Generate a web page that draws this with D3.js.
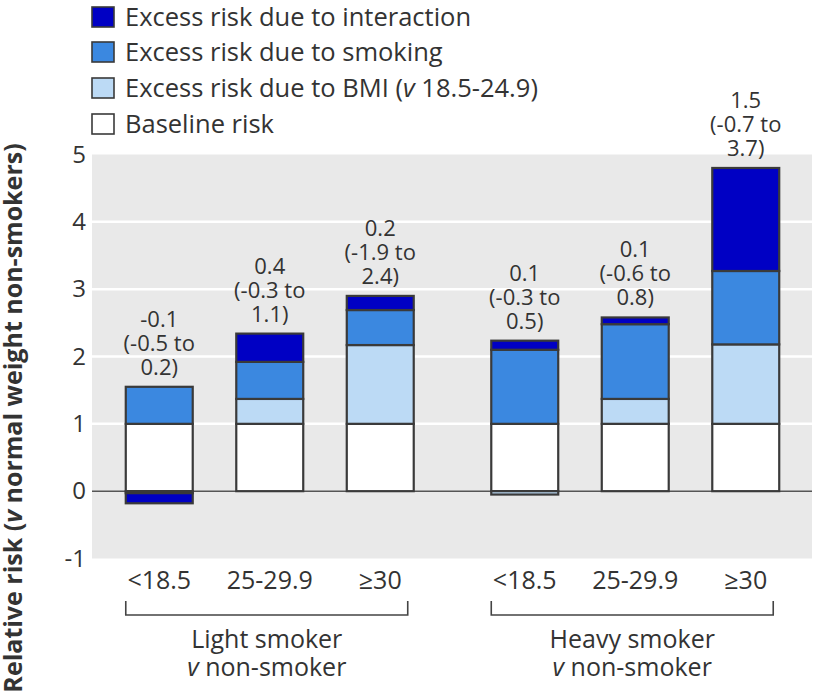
<!DOCTYPE html>
<html>
<head>
<meta charset="utf-8">
<script src="https://cdn.jsdelivr.net/npm/d3@7"></script>
<style>
  html, body { margin: 0; padding: 0; background: #fff; }
  svg { display: block; }
  text { font-family: "Open Sans", "Noto Sans", sans-serif; fill: #333; }
</style>
</head>
<body>
<svg id="chart" width="816" height="692"></svg>
<script>
// ---- data ----
const groups = ["Light smoker", "Heavy smoker"];
const groupSubLabels = ["non-smoker", "non-smoker"];
const bmiCategories = ["<18.5", "25-29.9", "≥30"];
const barGroup = ["Light smoker", "Light smoker", "Light smoker", "Heavy smoker", "Heavy smoker", "Heavy smoker"];
const barBmi = ["<18.5", "25-29.9", "≥30", "<18.5", "25-29.9", "≥30"];
const baselineRisk = [1, 1, 1, 1, 1, 1];
const bmiExcess = [-0.03, 0.37, 1.17, -0.05, 0.37, 1.18];
const smokingExcess = [0.55, 0.55, 0.52, 1.10, 1.11, 1.09];
const interactionExcess = [-0.15, 0.42, 0.21, 0.135, 0.10, 1.53];
const reriEstimate = ["-0.1", "0.4", "0.2", "0.1", "0.1", "1.5"];
const reriLower = ["-0.5", "-0.3", "-1.9", "-0.3", "-0.6", "-0.7"];
const reriUpper = ["0.2", "1.1", "2.4", "0.5", "0.8", "3.7"];
const yTicks = [-1, 0, 1, 2, 3, 4, 5];
const seriesKeys = ["baseline", "bmi", "smoking", "interaction"];
const seriesLabels = ["Baseline risk", "Excess risk due to BMI", "Excess risk due to smoking", "Excess risk due to interaction"];
const seriesColors = ["#ffffff", "#bcdaf5", "#3b88e0", "#0000c4"];

// ---- build table ----
const rows = barGroup.map((g, i) => ({
  group: g, cat: barBmi[i],
  baseline: baselineRisk[i], bmi: bmiExcess[i],
  smoking: smokingExcess[i], interaction: interactionExcess[i]
}));

const svg = d3.select("#chart");
const panel = { left: 92, right: 812, top: 154.5, bottom: 558.5 };

const y = d3.scaleLinear().domain([-1, 5]).range([panel.bottom, panel.top]);
const x0 = d3.scaleBand().domain(groups).range([104, 801]).paddingInner(0.093).paddingOuter(0);
const x1 = d3.scaleBand().domain(bmiCategories).range([0, x0.bandwidth()]).paddingInner(0.394).paddingOuter(0.197);
const xc = r => x0(r.group) + x1(r.cat);

// panel background
svg.append("rect")
  .attr("x", panel.left).attr("y", panel.top)
  .attr("width", panel.right - panel.left).attr("height", panel.bottom - panel.top)
  .attr("fill", "#e9e9e9");

// gridlines
svg.append("g").selectAll("line")
  .data(yTicks.filter(t => t > 0 && t < 5))
  .join("line")
  .attr("x1", panel.left).attr("x2", panel.right)
  .attr("y1", d => y(d)).attr("y2", d => y(d))
  .attr("stroke", "#ffffff").attr("stroke-width", 2.5);

// y axis labels
const yAxis = d3.axisLeft(y).tickValues(yTicks).tickSize(0).tickPadding(0).tickFormat(d => String(d));
const yg = svg.append("g").attr("transform", `translate(86,0)`).call(yAxis);
yg.select(".domain").remove();
yg.selectAll("text").attr("font-size", 24).attr("fill", "#333")
  .style("font-family", '"Open Sans", sans-serif');

// zero line
svg.append("line")
  .attr("x1", panel.left).attr("x2", panel.right)
  .attr("y1", y(0)).attr("y2", y(0))
  .attr("stroke", "#555").attr("stroke-width", 1.5);

// stacked bars
const stack = d3.stack().keys(seriesKeys).offset(d3.stackOffsetDiverging);
const stacked = stack(rows);
const barsG = svg.append("g");
stacked.forEach((layer, li) => {
  barsG.append("g").selectAll("rect")
    .data(layer.filter(d => d[1] !== d[0]))
    .join("rect")
    .attr("x", d => xc(d.data))
    .attr("width", x1.bandwidth())
    .attr("y", d => y(Math.max(d[0], d[1])))
    .attr("height", d => Math.abs(y(d[0]) - y(d[1])))
    .attr("fill", seriesColors[li])
    .attr("stroke", "#3a3a3a").attr("stroke-width", 2.2);
});

// annotations
const tops = rows.map((r, i) => d3.max(stacked, l => Math.max(l[i][0], l[i][1])));
const annG = svg.append("g");
rows.forEach((r, i) => {
  const cx = xc(r) + x1.bandwidth() / 2;
  const base = y(tops[i]) - 12;
  const lines = [reriEstimate[i], `(${reriLower[i]} to`, `${reriUpper[i]})`];
  lines.forEach((ln, k) => {
    annG.append("text").attr("text-anchor", "middle").attr("font-size", 22)
      .attr("x", cx).attr("y", base - (lines.length - 1 - k) * 24).text(ln);
  });
});

// x category labels
const xAxisG = svg.append("g");
rows.forEach(r => {
  xAxisG.append("text")
    .attr("x", xc(r) + x1.bandwidth() / 2).attr("y", 589)
    .attr("text-anchor", "middle").attr("font-size", 25)
    .text(r.cat);
});

// brackets and group labels
groups.forEach((g, gi) => {
  const xl = x0(g) + x1(bmiCategories[0]);
  const xr = x0(g) + x1(bmiCategories[bmiCategories.length - 1]) + x1.bandwidth() - 6;
  svg.append("path")
    .attr("d", `M${xl},601V615H${xr}V601`)
    .attr("fill", "none").attr("stroke", "#444").attr("stroke-width", 1.6);
  const cx = (xl + xr) / 2;
  svg.append("text").attr("x", cx).attr("y", 648).attr("text-anchor", "middle")
    .attr("font-size", 25).text(g);
  const t2 = svg.append("text").attr("x", cx).attr("y", 676).attr("text-anchor", "middle")
    .attr("font-size", 25);
  t2.append("tspan").attr("font-style", "italic").text("v");
  t2.append("tspan").text(" " + groupSubLabels[gi]);
});

// y axis title
const yt = svg.append("text")
  .attr("transform", "translate(22,418) rotate(-90)")
  .attr("text-anchor", "middle").attr("font-size", 25).attr("font-weight", "bold");
yt.append("tspan").text("Relative risk (");
yt.append("tspan").attr("font-style", "italic").text("v");
yt.append("tspan").text(" normal weight non-smokers)");

// legend
const legendOrder = [3, 2, 1, 0];
const legendRowY = [17, 52, 88, 124];
const lg = svg.append("g");
legendOrder.forEach((si, k) => {
  const cy = legendRowY[k];
  lg.append("rect").attr("x", 92).attr("y", cy - 10).attr("width", 22).attr("height", 20)
    .attr("fill", seriesColors[si]).attr("stroke", "#3a3a3a").attr("stroke-width", 1.6);
  const t = lg.append("text").attr("x", 125).attr("y", cy + 9).attr("font-size", 25.5);
  if (seriesKeys[si] === "bmi") {
    t.append("tspan").text(seriesLabels[si] + " (");
    t.append("tspan").attr("font-style", "italic").text("v");
    t.append("tspan").text(" 18.5-24.9)");
  } else {
    t.text(seriesLabels[si]);
  }
});
</script>
</body>
</html>
